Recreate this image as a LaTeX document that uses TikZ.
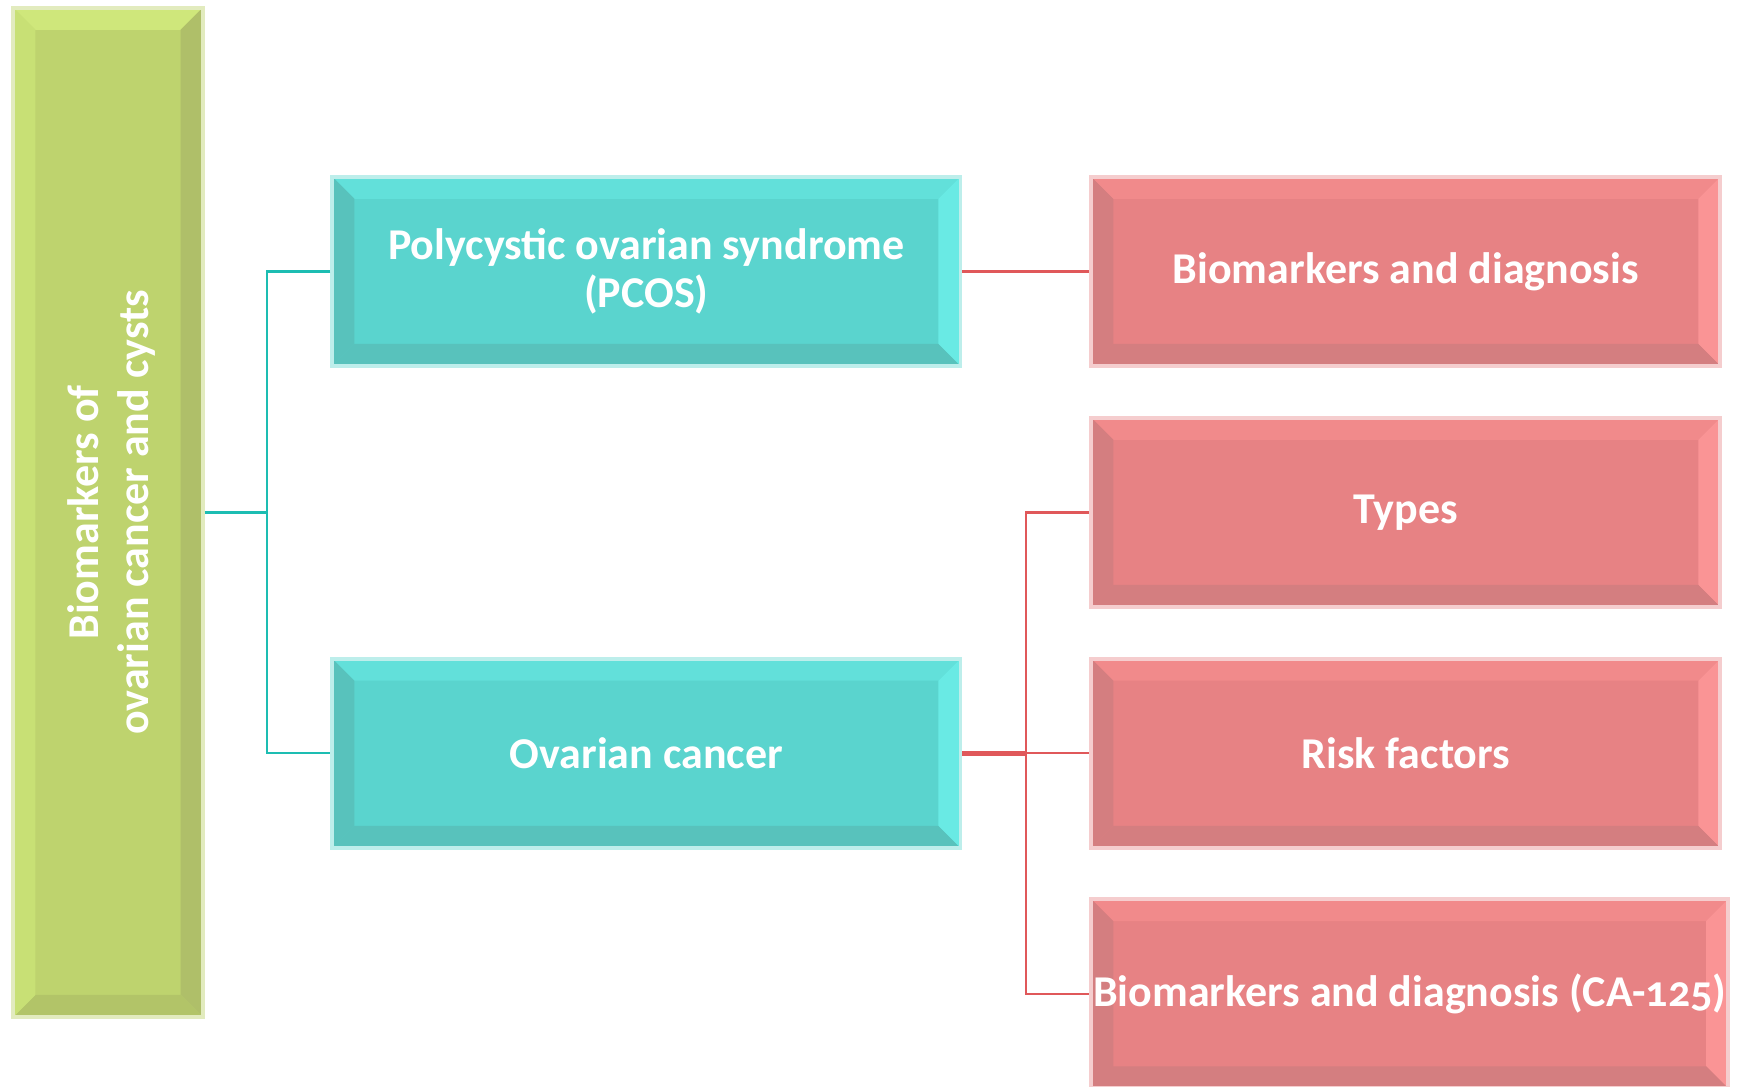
\documentclass[tikz,border=0pt]{standalone}
\usepackage{fontspec}
\setmainfont{Carlito}[Numbers=OldStyle]
\definecolor{greenfill}{HTML}{BED36E}
\definecolor{greentop}{HTML}{CFE77B}
\definecolor{greenleft}{HTML}{C8E075}
\definecolor{greenside}{HTML}{AFBF69}
\definecolor{greenbottom}{HTML}{B2C468}
\definecolor{tealfill}{HTML}{5AD4CE}
\definecolor{tealtop}{HTML}{62E0DA}
\definecolor{tealright}{HTML}{69EAE4}
\definecolor{tealdark}{HTML}{58C2BC}
\definecolor{redfill}{HTML}{E78284}
\definecolor{redtop}{HTML}{F18A8B}
\definecolor{redright}{HTML}{FA9495}
\definecolor{reddark}{HTML}{D47E80}
\definecolor{tealline}{HTML}{1DBDB2}
\definecolor{redline}{HTML}{E0585A}

\begin{document}
\begin{tikzpicture}[
  bevel/.style n args = {4}{path picture = {
      \def\bb{path picture bounding box}
      \fill[#1] (\bb.north west) -- (\bb.north east) -- ([shift={(-2mm,-2mm)}]\bb.north east) -- ([shift={(2mm,-2mm)}]\bb.north west) -- cycle;
      \fill[#2] (\bb.north east) -- (\bb.south east) -- ([shift={(-2mm,2mm)}]\bb.south east) -- ([shift={(-2mm,-2mm)}]\bb.north east) -- cycle;
      \fill[#3] (\bb.south west) -- (\bb.south east) -- ([shift={(-2mm,2mm)}]\bb.south east) -- ([shift={(2mm,2mm)}]\bb.south west) -- cycle;
      \fill[#4] (\bb.north west) -- (\bb.south west) -- ([shift={(2mm,2mm)}]\bb.south west) -- ([shift={(2mm,-2mm)}]\bb.north west) -- cycle;
  }},
  box/.style = {rectangle, text = white, font = \bfseries\fontsize{11.3}{12.3}\selectfont,
      align = center, inner sep = 0pt, line width = 1pt},
  greenbox/.style = {box, fill = greenfill, draw = greenfill!45!white,
      bevel = {greentop}{greenside}{greenbottom}{greenleft}},
  tealbox/.style = {box, fill = tealfill, draw = tealfill!40!white,
      minimum width = 5.67cm, minimum height = 1.71cm,
      bevel = {tealtop}{tealright}{tealdark}{tealdark}},
  redbox/.style = {box, fill = redfill, draw = redfill!40!white,
      minimum width = 5.68cm, minimum height = 1.71cm,
      bevel = {redtop}{redright}{reddark}{reddark}},
  tline/.style = {draw = tealline, line width = 0.6pt},
  rline/.style = {draw = redline, line width = 0.6pt}
  ]
  \useasboundingbox (0,0) rectangle (15.68,-9.81);

  \node[greenbox, minimum width = 1.71cm, minimum height = 9.11cm] (root) at (0.975,-4.625) {};
  \node[rotate = 90, text = white, align = center, font = \bfseries\fontsize{11.3}{12.8}\selectfont]
      (roottext) at ([xshift=0.03cm]root.center) {Biomarkers of\\ovarian cancer and cysts};

  \node[tealbox] (pcos) at (5.835,-2.45) {Polycystic ovarian syndrome\\(PCOS)};
  \node[tealbox] (ovc) at (5.835,-6.80) {Ovarian cancer};

  \node[redbox] (bmd) at (12.69,-2.45) {Biomarkers and diagnosis};
  \node[redbox] (types) at (12.69,-4.625) {Types};
  \node[redbox] (risk) at (12.69,-6.80) {Risk factors};
  \node[redbox, minimum width = 5.75cm] (ca) at (12.725,-8.97) {Biomarkers and diagnosis (CA-125)};

  \coordinate (jt) at (2.41,-4.625);
  \coordinate (jr) at (9.26,-6.80);

  \draw[tline] (root.east) -- (jt);
  \draw[tline] (pcos.west) -| (jt) |- (ovc.west);

  \draw[rline] (pcos.east) -- (bmd.west);
  \draw[rline, line width = 1.2pt] (ovc.east) -- (jr);
  \draw[rline] (types.west) -| (jr) |- (ca.west);
  \draw[rline] (jr) -- (risk.west);
\end{tikzpicture}
\end{document}
